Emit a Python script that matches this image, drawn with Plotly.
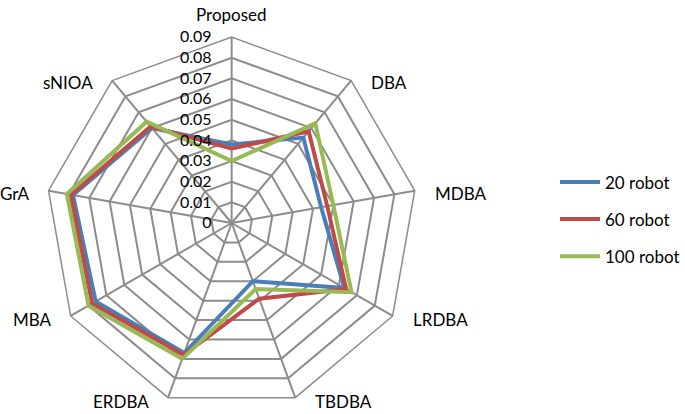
import math
import plotly.graph_objects as go

categories = ["Proposed", "DBA", "MDBA", "LRDBA", "TBDBA", "ERDBA", "MBA", "GrA", "sNIOA"]
robot_20 = [0.038, 0.054, 0.044, 0.063, 0.030, 0.067, 0.076, 0.078, 0.060]
robot_60 = [0.036, 0.058, 0.047, 0.064, 0.039, 0.068, 0.078, 0.079, 0.061]
robot_100 = [0.030, 0.063, 0.050, 0.067, 0.034, 0.070, 0.080, 0.081, 0.064]
series_names = ["20 robot", "60 robot", "100 robot"]
radial_ticks = [0, 0.01, 0.02, 0.03, 0.04, 0.05, 0.06, 0.07, 0.08, 0.09]
radial_labels = ["0", "0.01", "0.02", "0.03", "0.04", "0.05", "0.06", "0.07", "0.08", "0.09"]

colors = ["#4A7EBB", "#BE4B48", "#98B954"]
font = "Lato"

fig = go.Figure()
for name, vals, col in zip(series_names, [robot_20, robot_60, robot_100], colors):
    fig.add_trace(go.Scatterpolar(
        r=vals + vals[:1], theta=categories + categories[:1],
        mode="lines", name=name, legendgroup=name,
        line=dict(color=col, width=4),
    ))

W, H = 685, 414
cx, cy, R = 233, 223, 187

# category labels placed Excel-style, beside each outer vertex
for i, cat in enumerate(categories):
    a = math.radians(i * 360 / len(categories))
    vx, vy = cx + R * math.sin(a), cy - R * math.cos(a)
    if math.sin(a) > 0.1:
        x, y, anchor = vx + 18, vy + 3, "left"
    elif math.sin(a) < -0.1:
        x, y, anchor = vx - 17, vy + 3, "right"
    else:
        x, y, anchor = vx, vy - 22, "center"
    fig.add_annotation(
        x=x / W, y=1 - y / H, xref="paper", yref="paper",
        text=cat, showarrow=False, xanchor=anchor, yanchor="middle",
        font=dict(size=17),
    )

fig.update_layout(
    width=W, height=H,
    margin=dict(l=0, r=0, t=0, b=0),
    paper_bgcolor="white", plot_bgcolor="white",
    font=dict(family=font, size=16, color="black"),
    polar=dict(
        domain=dict(x=[(cx - R) / W, (cx + R) / W], y=[(H - cy - R) / H, (H - cy + R) / H]),
        gridshape="linear",
        bgcolor="white",
        angularaxis=dict(
            rotation=90, direction="clockwise",
            gridcolor="#8C8C8C", gridwidth=1.5,
            linecolor="#8C8C8C", linewidth=1.5,
            ticks="", showticklabels=False,
        ),
        radialaxis=dict(
            range=[0, 0.09], angle=90, side="counterclockwise",
            tickvals=radial_ticks, ticktext=radial_labels,
            gridcolor="#8C8C8C", gridwidth=1.5,
            showline=False, ticks="outside", ticklen=14,
            tickcolor="rgba(0,0,0,0)", tickfont=dict(size=16),
            tickangle=90,
        ),
    ),
    legend=dict(
        x=0.815, y=0.47, xanchor="left", yanchor="middle",
        font=dict(size=17), tracegroupgap=12, itemwidth=40,
    ),
)

fig.write_html("out.html", config={"displayModeBar": False},
               post_script="document.body.style.margin='0px';")
